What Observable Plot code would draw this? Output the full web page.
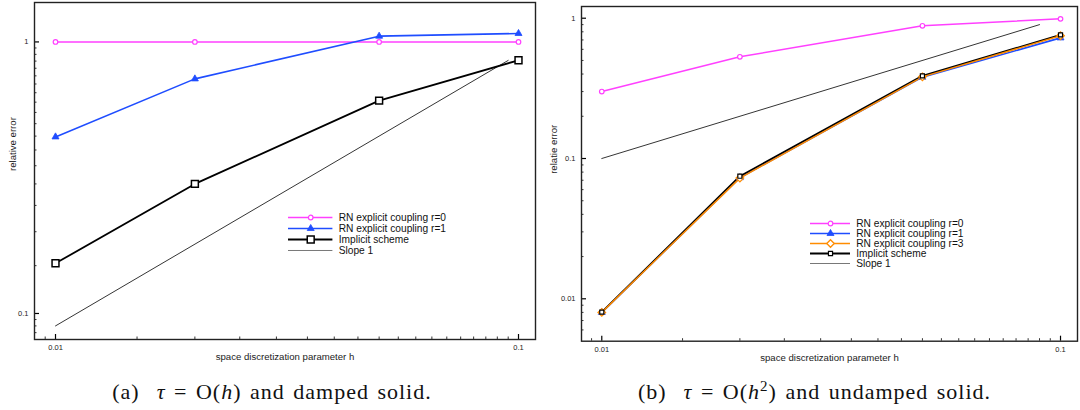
<!DOCTYPE html>
<html><head><meta charset="utf-8">
<script src="https://cdn.jsdelivr.net/npm/d3@7"></script>
<script src="https://cdn.jsdelivr.net/npm/@observablehq/plot@0.6"></script>
<style>
html,body{margin:0;padding:0;background:#fff;}
#root{position:relative;width:1080px;height:410px;overflow:hidden;background:#fff;}
.abs{position:absolute;top:0;}
.cap{position:absolute;top:379px;line-height:26px;font-family:"Liberation Serif","Times New Roman",serif;font-size:22px;letter-spacing:1px;word-spacing:2px;white-space:nowrap;transform:translateX(-50%);color:#111;}
</style></head><body><div id="root"></div>
<script>
// ---- data ----
const h = [0.01, 0.02, 0.05, 0.1];
// panel (a): tau = O(h), damped solid
const aR0 = [1, 1, 1, 1];
const aR1 = [0.447, 0.731, 1.05, 1.074];
const aImpl = [0.153, 0.300, 0.608, 0.856];
const aSlopeH = [0.01, 0.095];
const aSlope = [0.09, 0.855];
// panel (b): tau = O(h^2), undamped solid
const bR0 = [0.30, 0.531, 0.883, 0.99];
const bR1 = [0.008, 0.073, 0.38, 0.724];
const bR3 = [0.008, 0.0725, 0.382, 0.75];
const bImpl = [0.00803, 0.0748, 0.388, 0.76];
const bSlopeH = [0.01, 0.09];
const bSlope = [0.1, 0.9];
// labels
const namesA = ["RN explicit coupling r=0", "RN explicit coupling r=1", "Implicit scheme", "Slope 1"];
const namesB = ["RN explicit coupling r=0", "RN explicit coupling r=1", "RN explicit coupling r=3", "Implicit scheme", "Slope 1"];
const xLabel = "space discretization parameter h";
const yLabelA = "relative error";
const yLabelB = "relatie error";
// ticks
const xMajor = [0.01, 0.1];
const xMinor = [0.0095, 0.015, 0.02, 0.025, 0.03, 0.035, 0.04, 0.045, 0.05, 0.055, 0.06, 0.065, 0.07, 0.075, 0.08, 0.085, 0.09, 0.095];
const aYMajor = [0.1, 1];
const aYMinor = [0.085, 0.09, 0.095, 0.15, 0.2, 0.25, 0.3, 0.35, 0.4, 0.45, 0.5, 0.55, 0.6, 0.65, 0.7, 0.75, 0.8, 0.85, 0.9, 0.95];
const bYMajor = [0.01, 0.1, 1];
const bYMinor = [0.006, 0.007, 0.008, 0.009, 0.02, 0.03, 0.04, 0.05, 0.06, 0.07, 0.08, 0.09, 0.2, 0.3, 0.4, 0.5, 0.6, 0.7, 0.8, 0.9];

// ---- styles ----
const MAG = "#ff40ff", BLUE = "#1f4dff", ORANGE = "#ff8c00", BLACK = "#000";
const FONT = "'Liberation Sans', Arial, Helvetica, sans-serif";
const stR0 = {color: MAG, symbol: "circle", r: 2.3, fill: "white", lw: 1.5, mw: 1.2};
const stR1 = {color: BLUE, symbol: "triangle", r: 2.6, fill: BLUE, lw: 1.6, mw: 0.8};
const stR3 = {color: ORANGE, symbol: "diamond2", r: 3.4, fill: "white", lw: 1.5, mw: 1.3};
const stImplA = {color: BLACK, symbol: "square", r: 3.9, fill: "white", lw: 1.8, mw: 1.5};
const stImplB = {color: BLACK, symbol: "square", r: 2.3, fill: "white", lw: 1.8, mw: 1.2};
const stSlope = {color: BLACK, lw: 0.8, lcolor: "#555"};

const seriesA = [
  {name: namesA[0], y: aR0, ...stR0},
  {name: namesA[1], y: aR1, ...stR1},
  {name: namesA[2], y: aImpl, ...stImplA}
];
const seriesB = [
  {name: namesB[0], y: bR0, ...stR0},
  {name: namesB[1], y: bR1, ...stR1},
  {name: namesB[3], y: bImpl, ...stImplB},
  {name: namesB[2], y: bR3, ...stR3}
];

function panel(cfg) {
  const pts = s => h.map((x, i) => ({x, y: s.y[i]}));
  const slopeData = cfg.slopeH.map((x, i) => ({x, y: cfg.slope[i]}));
  const marks = [
    Plot.line(slopeData, {x: "x", y: "y", stroke: stSlope.color, strokeWidth: stSlope.lw}),
    ...cfg.series.map(s => Plot.line(pts(s), {x: "x", y: "y", stroke: s.color, strokeWidth: s.lw})),
    ...cfg.dotOrder.map(k => { const s = cfg.series[k]; return Plot.dot(pts(s), {x: "x", y: "y", symbol: s.symbol, r: s.r, fill: s.fill, stroke: s.color, strokeWidth: s.mw}); }),
    Plot.axisX({ticks: xMinor, tickSize: -2.5, tickFormat: () => "", strokeWidth: 0.8, label: null}),
    Plot.axisX({ticks: xMajor, tickSize: -5, tickFormat: () => "", strokeWidth: 1.2, label: null}),
    Plot.axisX({ticks: xMajor, tickSize: 0, tickPadding: 5, tickFormat: d => String(d), fontSize: 7.5, fill: "#222", label: null}),
    Plot.axisY({ticks: cfg.yMinor, tickSize: -2.5, tickFormat: () => "", strokeWidth: 0.8, label: null}),
    Plot.axisY({ticks: cfg.yMajor, tickSize: -5, tickFormat: () => "", strokeWidth: 1.2, label: null}),
    Plot.axisY({ticks: cfg.yMajor, tickSize: 0, tickPadding: 6, tickFormat: d => String(d), fontSize: 7.5, fill: "#222", label: null}),
    Plot.text([xLabel], {frameAnchor: "bottom", dy: 20, text: d => d, fontSize: 9.6, fill: "#222"}),
    Plot.text([cfg.yLabel], {frameAnchor: "left", dx: cfg.yLabelDx, rotate: -90, text: d => d, fontSize: 9.6, fill: "#222"}),
    Plot.frame({stroke: "#222", strokeWidth: 1.4})
  ];
  return Plot.plot({
    width: 540, height: 370,
    marginLeft: cfg.ml, marginRight: cfg.mr, marginTop: cfg.mt, marginBottom: cfg.mb,
    x: {type: "log", domain: cfg.xd},
    y: {type: "log", domain: cfg.yd},
    style: {fontFamily: FONT, background: "white", overflow: "visible"},
    marks
  });
}

function legend(cfg) {
  const n = cfg.items.length;
  const names = cfg.items.map(d => d.name);
  return Plot.plot({
    width: 220, height: 8 + cfg.step * n, margin: 0,
    x: {type: "linear", domain: [0, 1], range: [0, cfg.len], axis: null},
    y: {type: "point", domain: names, range: [6, 6 + cfg.step * (n - 1)], padding: 0, axis: null},
    style: {fontFamily: FONT, background: "transparent", overflow: "visible"},
    marks: [
      ...cfg.items.map(s => Plot.ruleY([s.name], {y: d => d, x1: () => 0, x2: () => 1, stroke: s.lcolor || s.color, strokeWidth: s.lw})),
      ...cfg.items.filter(s => s.symbol).map(s => Plot.dot([s.name], {x: () => 0.5, y: d => d, symbol: s.symbol, r: s.r, fill: s.fill, stroke: s.color, strokeWidth: s.mw})),
      Plot.text(names, {x: () => 1, y: d => d, text: d => d, textAnchor: "start", dx: cfg.gap, fontSize: 10.2, fill: "#111"})
    ]
  });
}

const root = document.getElementById("root");
function place(el, left, top) {
  const d = document.createElement("div");
  d.className = "abs"; d.style.left = left + "px"; d.style.top = top + "px";
  d.appendChild(el); root.appendChild(d);
}

place(panel({
  series: seriesA, dotOrder: [0, 1, 2], slopeH: aSlopeH, slope: aSlope,
  yMajor: aYMajor, yMinor: aYMinor, yLabel: yLabelA, yLabelDx: -22,
  ml: 34, mr: 5, mt: 2, mb: 31,
  xd: [0.009008, 0.10882], yd: [0.0802, 1.397]
}), 0, 0);

place(panel({
  series: seriesB, dotOrder: [0, 1, 3, 2], slopeH: bSlopeH, slope: bSlope,
  yMajor: bYMajor, yMinor: bYMinor, yLabel: yLabelB, yLabelDx: -28,
  ml: 41, mr: 3, mt: 6, mb: 29.3,
  xd: [0.009032, 0.1089], yd: [0.004986, 1.212]
}), 540, 0);

place(legend({
  items: [seriesA[0], seriesA[1], seriesA[2], {name: namesA[3], ...stSlope}],
  step: 11.2, len: 44.4, gap: 5.8
}), 288.3, 217.3 - 6);

place(legend({
  items: [seriesB[0], seriesB[1], seriesB[3], seriesB[2], {name: namesB[4], ...stSlope}],
  step: 10.8, len: 40, gap: 5.7
}), 810, 220.7 - 6);

const capA = document.createElement("div");
capA.className = "cap"; capA.style.left = "272px";
capA.innerHTML = "(a)&nbsp; <i>τ</i> = O(<i>h</i>) and damped solid.";
root.appendChild(capA);
const capB = document.createElement("div");
capB.className = "cap"; capB.style.left = "814.5px";
capB.innerHTML = "(b)&nbsp; <i>τ</i> = O(<i>h</i><sup style='font-size:15px;line-height:0'>2</sup>) and undamped solid.";
root.appendChild(capB);
</script></body></html>
